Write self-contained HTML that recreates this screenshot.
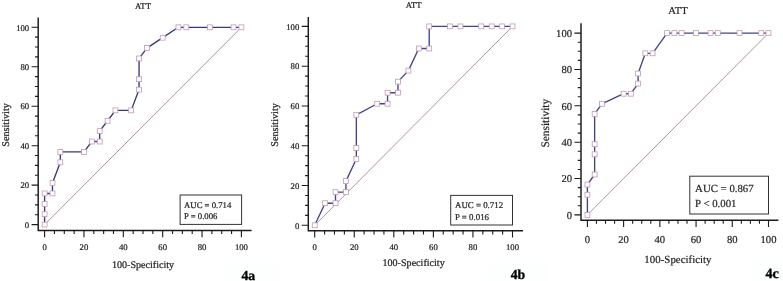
<!DOCTYPE html>
<html><head><meta charset="utf-8"><style>
html,body{margin:0;padding:0;background:#fff;}
body{width:783px;height:281px;overflow:hidden;}
svg{display:block;}
text{font-family:"Liberation Serif", serif;fill:#1e1e1e;stroke:#1e1e1e;stroke-width:var(--tsw);text-rendering:geometricPrecision;}
</style></head><body>
<svg width="783" height="281" viewBox="0 0 783 281">
<defs><filter id="bl" x="0" y="0" width="100%" height="100%" filterUnits="userSpaceOnUse"><feGaussianBlur stdDeviation="0.42"/></filter></defs>
<rect width="783" height="281" fill="#fff"/>
<g filter="url(#bl)">
<rect width="783" height="281" fill="#fff"/>
<g id="pa" style="--tsw:0.22px"><text x="143" y="8.6" font-size="8.7" text-anchor="middle">ATT</text>
<line x1="44.6" y1="224.6" x2="241.4" y2="27.3" stroke="#b6949e" stroke-width="1"/>
<path d="M38.2 17.5V230.5H251.6" fill="none" stroke="#1a1a1a" stroke-width="1.45"/>
<path d="M31.6 224.6H38.2M44.6 230.5V237.3M35 214.73H38.2M54.44 230.5V234.1M35 204.87H38.2M64.28 230.5V234.1M35 195H38.2M74.12 230.5V234.1M31.6 185.14H38.2M83.96 230.5V237.3M35 175.28H38.2M93.8 230.5V234.1M35 165.41H38.2M103.64 230.5V234.1M35 155.55H38.2M113.48 230.5V234.1M31.6 145.68H38.2M123.32 230.5V237.3M35 135.81H38.2M133.16 230.5V234.1M35 125.95H38.2M143 230.5V234.1M35 116.09H38.2M152.84 230.5V234.1M31.6 106.22H38.2M162.68 230.5V237.3M35 96.35H38.2M172.52 230.5V234.1M35 86.49H38.2M182.36 230.5V234.1M35 76.62H38.2M192.2 230.5V234.1M31.6 66.76H38.2M202.04 230.5V237.3M35 56.9H38.2M211.88 230.5V234.1M35 47.03H38.2M221.72 230.5V234.1M35 37.17H38.2M231.56 230.5V234.1M31.6 27.3H38.2M241.4 230.5V237.3" stroke="#1a1a1a" stroke-width="1.1"/>
<text x="44.6" y="250" font-size="8.7" text-anchor="middle">0</text>
<text x="29.2" y="227.82" font-size="8.7" text-anchor="end">0</text>
<text x="83.96" y="250" font-size="8.7" text-anchor="middle">20</text>
<text x="29.2" y="188.36" font-size="8.7" text-anchor="end">20</text>
<text x="123.32" y="250" font-size="8.7" text-anchor="middle">40</text>
<text x="29.2" y="148.9" font-size="8.7" text-anchor="end">40</text>
<text x="162.68" y="250" font-size="8.7" text-anchor="middle">60</text>
<text x="29.2" y="109.44" font-size="8.7" text-anchor="end">60</text>
<text x="202.04" y="250" font-size="8.7" text-anchor="middle">80</text>
<text x="29.2" y="69.98" font-size="8.7" text-anchor="end">80</text>
<text x="241.4" y="250" font-size="8.7" text-anchor="middle">100</text>
<text x="29.2" y="30.52" font-size="8.7" text-anchor="end">100</text>
<text transform="translate(9.4 124.95) rotate(-90)" font-size="10.2" text-anchor="middle">Sensitivity</text>
<text x="143" y="267.8" font-size="10.1" text-anchor="middle">100-Specificity</text>
<path d="M44.6 224.6 L44.6 214.22 L44.6 203.83 L44.6 193.45 L52.47 193.45 L52.47 183.06 L60.34 162.29 L60.34 151.91 L83.96 151.91 L91.83 141.53 L99.7 141.53 L99.7 131.14 L107.58 120.76 L115.45 110.37 L131.19 110.37 L139.06 89.61 L139.06 79.22 L139.06 58.45 L146.94 48.07 L162.68 37.68 L178.42 27.3 L186.3 27.3 L209.91 27.3 L233.53 27.3 L241.4 27.3" fill="none" stroke="#37368f" stroke-width="1.35" stroke-linejoin="round"/>
<g fill="#fff" stroke="#c592aa" stroke-width="0.75"><rect x="42.15" y="222.15" width="4.9" height="4.9"/><rect x="42.15" y="211.77" width="4.9" height="4.9"/><rect x="42.15" y="201.38" width="4.9" height="4.9"/><rect x="42.15" y="191" width="4.9" height="4.9"/><rect x="50.02" y="191" width="4.9" height="4.9"/><rect x="50.02" y="180.61" width="4.9" height="4.9"/><rect x="57.89" y="159.84" width="4.9" height="4.9"/><rect x="57.89" y="149.46" width="4.9" height="4.9"/><rect x="81.51" y="149.46" width="4.9" height="4.9"/><rect x="89.38" y="139.08" width="4.9" height="4.9"/><rect x="97.25" y="139.08" width="4.9" height="4.9"/><rect x="97.25" y="128.69" width="4.9" height="4.9"/><rect x="105.13" y="118.31" width="4.9" height="4.9"/><rect x="113" y="107.92" width="4.9" height="4.9"/><rect x="128.74" y="107.92" width="4.9" height="4.9"/><rect x="136.61" y="87.16" width="4.9" height="4.9"/><rect x="136.61" y="76.77" width="4.9" height="4.9"/><rect x="136.61" y="56" width="4.9" height="4.9"/><rect x="144.49" y="45.62" width="4.9" height="4.9"/><rect x="160.23" y="35.23" width="4.9" height="4.9"/><rect x="175.97" y="24.85" width="4.9" height="4.9"/><rect x="183.85" y="24.85" width="4.9" height="4.9"/><rect x="207.46" y="24.85" width="4.9" height="4.9"/><rect x="231.08" y="24.85" width="4.9" height="4.9"/><rect x="238.95" y="24.85" width="4.9" height="4.9"/></g>
<rect x="180.1" y="195" width="61.5" height="29.4" fill="#fff" stroke="#333" stroke-width="1"/>
<text x="184.1" y="207.6" font-size="8.7">AUC = 0.714</text>
<text x="184.1" y="219" font-size="8.7">P = 0.006</text>
<rect x="225.2" y="263.8" width="53.69999999999999" height="17.19999999999999" fill="#fdfefe"/>
<text x="241.4" y="279.6" font-size="13.8" font-weight="bold" style="fill:#000;stroke:#000;stroke-width:0.3px">4a</text></g>
<g id="pb" style="--tsw:0.22px"><text x="413.6" y="8" font-size="8.7" text-anchor="middle">ATT</text>
<line x1="314.7" y1="225.3" x2="512.5" y2="26.4" stroke="#b6949e" stroke-width="1"/>
<path d="M308.3 16.9V230.8H523" fill="none" stroke="#1a1a1a" stroke-width="1.45"/>
<path d="M301.7 225.3H308.3M314.7 230.8V237.6M305.1 215.36H308.3M324.59 230.8V234.4M305.1 205.41H308.3M334.48 230.8V234.4M305.1 195.47H308.3M344.37 230.8V234.4M301.7 185.52H308.3M354.26 230.8V237.6M305.1 175.58H308.3M364.15 230.8V234.4M305.1 165.63H308.3M374.04 230.8V234.4M305.1 155.69H308.3M383.93 230.8V234.4M301.7 145.74H308.3M393.82 230.8V237.6M305.1 135.8H308.3M403.71 230.8V234.4M305.1 125.85H308.3M413.6 230.8V234.4M305.1 115.91H308.3M423.49 230.8V234.4M301.7 105.96H308.3M433.38 230.8V237.6M305.1 96.02H308.3M443.27 230.8V234.4M305.1 86.07H308.3M453.16 230.8V234.4M305.1 76.12H308.3M463.05 230.8V234.4M301.7 66.18H308.3M472.94 230.8V237.6M305.1 56.24H308.3M482.83 230.8V234.4M305.1 46.29H308.3M492.72 230.8V234.4M305.1 36.34H308.3M502.61 230.8V234.4M301.7 26.4H308.3M512.5 230.8V237.6" stroke="#1a1a1a" stroke-width="1.1"/>
<text x="314.7" y="250.3" font-size="8.7" text-anchor="middle">0</text>
<text x="299.3" y="228.52" font-size="8.7" text-anchor="end">0</text>
<text x="354.26" y="250.3" font-size="8.7" text-anchor="middle">20</text>
<text x="299.3" y="188.74" font-size="8.7" text-anchor="end">20</text>
<text x="393.82" y="250.3" font-size="8.7" text-anchor="middle">40</text>
<text x="299.3" y="148.96" font-size="8.7" text-anchor="end">40</text>
<text x="433.38" y="250.3" font-size="8.7" text-anchor="middle">60</text>
<text x="299.3" y="109.18" font-size="8.7" text-anchor="end">60</text>
<text x="472.94" y="250.3" font-size="8.7" text-anchor="middle">80</text>
<text x="299.3" y="69.4" font-size="8.7" text-anchor="end">80</text>
<text x="512.5" y="250.3" font-size="8.7" text-anchor="middle">100</text>
<text x="299.3" y="29.62" font-size="8.7" text-anchor="end">100</text>
<text transform="translate(278.2 124.95) rotate(-90)" font-size="10.2" text-anchor="middle">Sensitivity</text>
<text x="413.6" y="265.8" font-size="10.1" text-anchor="middle">100-Specificity</text>
<path d="M314.7 225.3 L325.11 203.2 L335.52 203.2 L335.52 192.15 L345.93 192.15 L345.93 181.1 L356.34 159 L356.34 147.95 L356.34 114.8 L377.16 103.75 L387.57 103.75 L387.57 92.7 L397.98 92.7 L397.98 81.65 L408.39 70.6 L418.81 48.5 L429.22 48.5 L429.22 26.4 L450.04 26.4 L460.45 26.4 L481.27 26.4 L491.68 26.4 L502.09 26.4 L512.5 26.4" fill="none" stroke="#4141a8" stroke-width="1.35" stroke-linejoin="round"/>
<g fill="#fff" stroke="#c592aa" stroke-width="0.75"><rect x="312.25" y="222.85" width="4.9" height="4.9"/><rect x="322.66" y="200.75" width="4.9" height="4.9"/><rect x="333.07" y="200.75" width="4.9" height="4.9"/><rect x="333.07" y="189.7" width="4.9" height="4.9"/><rect x="343.48" y="189.7" width="4.9" height="4.9"/><rect x="343.48" y="178.65" width="4.9" height="4.9"/><rect x="353.89" y="156.55" width="4.9" height="4.9"/><rect x="353.89" y="145.5" width="4.9" height="4.9"/><rect x="353.89" y="112.35" width="4.9" height="4.9"/><rect x="374.71" y="101.3" width="4.9" height="4.9"/><rect x="385.12" y="101.3" width="4.9" height="4.9"/><rect x="385.12" y="90.25" width="4.9" height="4.9"/><rect x="395.53" y="90.25" width="4.9" height="4.9"/><rect x="395.53" y="79.2" width="4.9" height="4.9"/><rect x="405.94" y="68.15" width="4.9" height="4.9"/><rect x="416.36" y="46.05" width="4.9" height="4.9"/><rect x="426.77" y="46.05" width="4.9" height="4.9"/><rect x="426.77" y="23.95" width="4.9" height="4.9"/><rect x="447.59" y="23.95" width="4.9" height="4.9"/><rect x="458" y="23.95" width="4.9" height="4.9"/><rect x="478.82" y="23.95" width="4.9" height="4.9"/><rect x="489.23" y="23.95" width="4.9" height="4.9"/><rect x="499.64" y="23.95" width="4.9" height="4.9"/><rect x="510.05" y="23.95" width="4.9" height="4.9"/></g>
<rect x="450.7" y="195.4" width="61.8" height="29.6" fill="#fff" stroke="#333" stroke-width="1"/>
<text x="455" y="208.1" font-size="8.9">AUC = 0.712</text>
<text x="455" y="219.9" font-size="8.9">P = 0.016</text>
<rect x="488.8" y="263.8" width="57.400000000000034" height="17.19999999999999" fill="#fdfefe"/>
<text x="510.7" y="279.3" font-size="13.8" font-weight="bold" style="fill:#000;stroke:#000;stroke-width:0.3px">4b</text></g>
<g id="pc" style="--tsw:0.2px"><text x="677.95" y="13.5" font-size="10.6" text-anchor="middle">ATT</text>
<line x1="587.4" y1="214.9" x2="768.5" y2="33.1" stroke="#b6949e" stroke-width="1"/>
<path d="M581 23.3V220.2H778.4" fill="none" stroke="#1a1a1a" stroke-width="1.45"/>
<path d="M574.4 214.9H581M587.4 220.2V227M577.8 205.81H581M596.45 220.2V223.8M577.8 196.72H581M605.51 220.2V223.8M577.8 187.63H581M614.56 220.2V223.8M574.4 178.54H581M623.62 220.2V227M577.8 169.45H581M632.67 220.2V223.8M577.8 160.36H581M641.73 220.2V223.8M577.8 151.27H581M650.78 220.2V223.8M574.4 142.18H581M659.84 220.2V227M577.8 133.09H581M668.89 220.2V223.8M577.8 124H581M677.95 220.2V223.8M577.8 114.91H581M687 220.2V223.8M574.4 105.82H581M696.06 220.2V227M577.8 96.73H581M705.12 220.2V223.8M577.8 87.64H581M714.17 220.2V223.8M577.8 78.55H581M723.23 220.2V223.8M574.4 69.46H581M732.28 220.2V227M577.8 60.37H581M741.34 220.2V223.8M577.8 51.28H581M750.39 220.2V223.8M577.8 42.19H581M759.44 220.2V223.8M574.4 33.1H581M768.5 220.2V227" stroke="#1a1a1a" stroke-width="1.1"/>
<text x="587.4" y="243.3" font-size="10.6" text-anchor="middle">0</text>
<text x="572" y="218.82" font-size="10.6" text-anchor="end">0</text>
<text x="623.62" y="243.3" font-size="10.6" text-anchor="middle">20</text>
<text x="572" y="182.46" font-size="10.6" text-anchor="end">20</text>
<text x="659.84" y="243.3" font-size="10.6" text-anchor="middle">40</text>
<text x="572" y="146.1" font-size="10.6" text-anchor="end">40</text>
<text x="696.06" y="243.3" font-size="10.6" text-anchor="middle">60</text>
<text x="572" y="109.74" font-size="10.6" text-anchor="end">60</text>
<text x="732.28" y="243.3" font-size="10.6" text-anchor="middle">80</text>
<text x="572" y="73.38" font-size="10.6" text-anchor="end">80</text>
<text x="768.5" y="243.3" font-size="10.6" text-anchor="middle">100</text>
<text x="572" y="37.02" font-size="10.6" text-anchor="end">100</text>
<text transform="translate(548.6 123.2) rotate(-90)" font-size="11.4" text-anchor="middle">Sensitivity</text>
<text x="677.95" y="262.9" font-size="10.9" text-anchor="middle">100-Specificity</text>
<path d="M587.4 214.9 L587.4 194.7 L587.4 184.6 L594.64 174.5 L594.64 154.3 L594.64 144.2 L594.64 113.9 L601.89 103.8 L623.62 93.7 L630.86 93.7 L638.11 83.6 L638.11 73.5 L645.35 53.3 L652.6 53.3 L667.08 33.1 L674.33 33.1 L681.57 33.1 L696.06 33.1 L710.55 33.1 L717.79 33.1 L739.52 33.1 L761.26 33.1 L768.5 33.1" fill="none" stroke="#434392" stroke-width="1.35" stroke-linejoin="round"/>
<g fill="#fff" stroke="#c592aa" stroke-width="0.75"><rect x="584.95" y="212.45" width="4.9" height="4.9"/><rect x="584.95" y="192.25" width="4.9" height="4.9"/><rect x="584.95" y="182.15" width="4.9" height="4.9"/><rect x="592.19" y="172.05" width="4.9" height="4.9"/><rect x="592.19" y="151.85" width="4.9" height="4.9"/><rect x="592.19" y="141.75" width="4.9" height="4.9"/><rect x="592.19" y="111.45" width="4.9" height="4.9"/><rect x="599.44" y="101.35" width="4.9" height="4.9"/><rect x="621.17" y="91.25" width="4.9" height="4.9"/><rect x="628.41" y="91.25" width="4.9" height="4.9"/><rect x="635.66" y="81.15" width="4.9" height="4.9"/><rect x="635.66" y="71.05" width="4.9" height="4.9"/><rect x="642.9" y="50.85" width="4.9" height="4.9"/><rect x="650.15" y="50.85" width="4.9" height="4.9"/><rect x="664.63" y="30.65" width="4.9" height="4.9"/><rect x="671.88" y="30.65" width="4.9" height="4.9"/><rect x="679.12" y="30.65" width="4.9" height="4.9"/><rect x="693.61" y="30.65" width="4.9" height="4.9"/><rect x="708.1" y="30.65" width="4.9" height="4.9"/><rect x="715.34" y="30.65" width="4.9" height="4.9"/><rect x="737.07" y="30.65" width="4.9" height="4.9"/><rect x="758.81" y="30.65" width="4.9" height="4.9"/><rect x="766.05" y="30.65" width="4.9" height="4.9"/></g>
<rect x="689.8" y="176.2" width="78.7" height="37.8" fill="#fff" stroke="#333" stroke-width="1"/>
<text x="695.1" y="192.2" font-size="10.8">AUC = 0.867</text>
<text x="695.1" y="207.4" font-size="10.8">P &lt; 0.001</text>
<rect x="752.0" y="259.6" width="31.0" height="21.399999999999977" fill="#fdfefe"/>
<text x="765.5" y="278" font-size="14.2" font-weight="bold" style="fill:#000;stroke:#000;stroke-width:0.3px">4c</text></g>
</g>
</svg>
</body></html>
